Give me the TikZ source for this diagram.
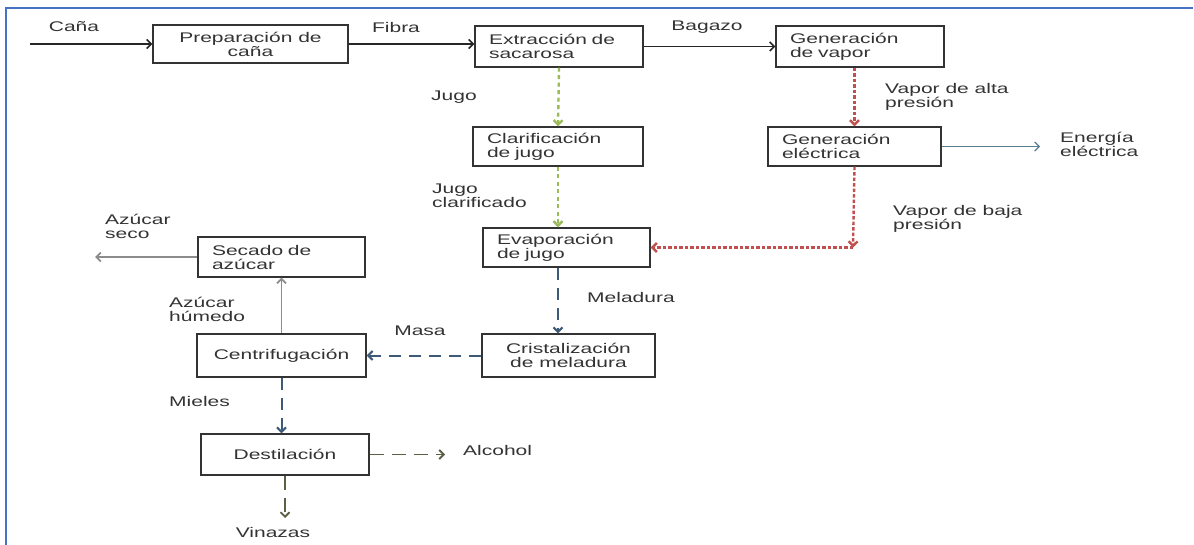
\documentclass[tikz,border=0pt]{standalone}
\usepackage{fontspec}
\setmainfont{Liberation Sans}[FakeStretch=1.5]
\usetikzlibrary{arrows.meta}
\definecolor{txtc}{HTML}{333333}
\definecolor{framec}{HTML}{4472C4}
\definecolor{jugoc}{HTML}{9BBB59}
\definecolor{vaporc}{HTML}{C0504D}
\definecolor{melc}{HTML}{3D5A78}
\definecolor{elecc}{HTML}{5A7D93}
\definecolor{azuc}{HTML}{8C8C8C}
\definecolor{destc}{HTML}{5E5E45}
\begin{document}
\begin{tikzpicture}[x=1pt,y=-1pt,>={Straight Barb[length=4.5pt,width=9pt]},
    font=\fontsize{14}{14}\selectfont,text=txtc,
    box/.style={draw=black!80,line width=1.4pt,inner ysep=0pt,minimum height=39pt},
    lbox/.style={box,align=left,inner xsep=14pt,text width=#1},
    cbox/.style={box,align=center,inner xsep=0pt,minimum width=#1},
    lab/.style={inner sep=0pt,align=left},
    flow/.style={->,line width=1.5pt,black!85},
    jugo/.style={->,line width=2.4pt,jugoc,dash pattern=on 4pt off 3.5pt},
    vapor/.style={->,line width=2.4pt,vaporc,dash pattern=on 3.5pt off 2pt},
    mel/.style={->,line width=2pt,melc,dash pattern=on 12pt off 8pt},
    azu/.style={->,line width=1.8pt,azuc},
    dest/.style={->,line width=1.8pt,destc,dash pattern=on 14pt off 8pt}]
\useasboundingbox (0,0) rectangle (1194,545);
\draw[framec,line width=2pt] (5.5,545) -- (5.5,8.5) -- (1193,8.5);

\node[cbox=195,minimum height=38pt] (prep) at (250.5,44) {Preparación de\\caña};
\node[lbox=140,minimum height=41pt] (extr) at (559,46.5) {Extracción de\\sacarosa};
\node[lbox=140,minimum height=41pt] (gvap) at (860,46.5) {Generación\\de vapor};
\node[lbox=142] (clar) at (558,146.5) {Clarificación\\de jugo};
\node[lbox=145] (gelec) at (854.5,146.5) {Generación\\eléctrica};
\node[lbox=139] (evap) at (566.5,247.5) {Evaporación\\de jugo};
\node[cbox=173,minimum height=43pt] (crist) at (568.5,355.5) {Cristalización\\de meladura};
\node[cbox=169,minimum height=43pt] (centr) at (281.5,355.5) {Centrifugación};
\node[lbox=139,minimum height=40pt] (sec) at (281.5,257) {Secado de\\azúcar};
\node[cbox=168,minimum height=41pt] (dest) at (285,454.5) {Destilación};

\coordinate (cin) at (30,44);
\coordinate (eout) at (1040,146.5);
\coordinate (sout) at (95,257);
\coordinate (aout) at (445,454.5);
\coordinate (vout) at (285,518);
\coordinate (vcorner) at (853,247.5);

\node[lab] (lcana) at (74,27) {Caña};
\node[lab] (lfibra) at (396,27) {Fibra};
\node[lab] (lbagazo) at (707,27) {Bagazo};
\node[lab] (ljugo) at (454,97) {Jugo};
\node[lab,anchor=west] (lalta) at (885,97) {Vapor de alta\\presión};
\node[lab,anchor=west] (lenergia) at (1060,144) {Energía\\eléctrica};
\node[lab,anchor=west] (ljclar) at (432,196) {Jugo\\clarificado};
\node[lab,anchor=west] (lbaja) at (893,219) {Vapor de baja\\presión};
\node[lab,anchor=west] (lmel) at (587,297) {Meladura};
\node[lab] (lmasa) at (420,331) {Masa};
\node[lab,anchor=west] (lhum) at (169,309) {Azúcar\\húmedo};
\node[lab,anchor=west] (lseco) at (105,226) {Azúcar\\seco};
\node[lab,anchor=west] (lmieles) at (169,401) {Mieles};
\node[lab,anchor=west] (lalc) at (463,450) {Alcohol};
\node[lab] (lvin) at (273,532) {Vinazas};

\draw[flow] (cin) -- (prep.west);
\draw[flow] (prep.east) -- (prep.east -| extr.west);
\draw[flow] (extr.east) -- (extr.east -| gvap.west);
\draw[jugo] (extr.south) -- (clar.north);
\draw[jugo] (clar.south) -- (clar.south |- evap.north);
\draw[vapor] (gelec.north |- gvap.south) -- (gelec.north);
\draw[->,line width=1.2pt,elecc] (gelec.east) -- (eout);
\draw[vapor] (gelec.south) -- (vcorner);
\draw[vapor] (vcorner) -- (evap.east);
\draw[mel] (clar.south |- evap.south) -- (clar.south |- crist.north);
\draw[mel] (crist.west) -- (centr.east);
\draw[azu] (centr.north) -- (sec.south);
\draw[azu] (sec.west) -- (sout);
\draw[mel] (centr.south) -- (centr.south |- dest.north);
\draw[dest] (dest.east) -- (aout);
\draw[dest] (dest.south) -- (vout);
\end{tikzpicture}
\end{document}
